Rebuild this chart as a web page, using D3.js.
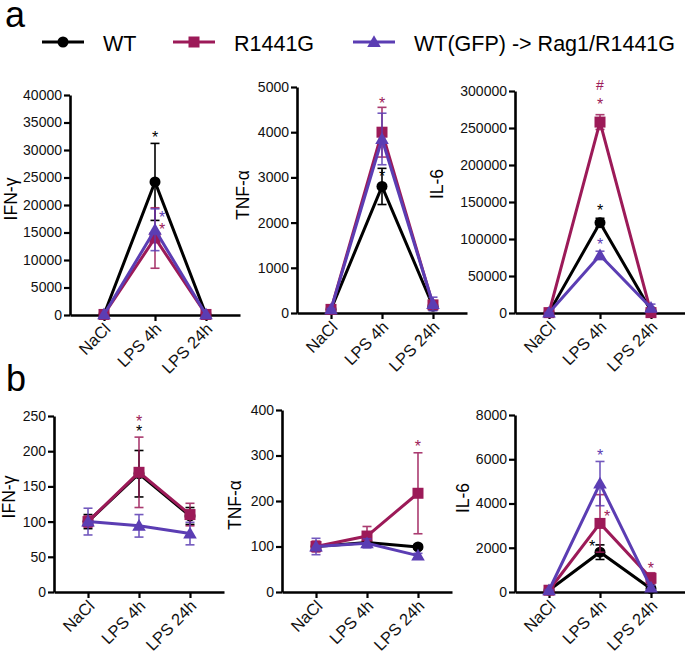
<!DOCTYPE html>
<html><head><meta charset="utf-8">
<script src="https://cdn.jsdelivr.net/npm/d3@7"></script>
<style>
body{margin:0;background:#fff;}
text{font-family:"Liberation Sans",Arial,sans-serif;}
</style></head>
<body><svg id="c" width="685" height="654"></svg>
<script>
// ---------- DATA ----------
const categories = ["NaCl", "LPS 4h", "LPS 24h"];
const seriesNames = ["WT", "R1441G", "WT(GFP) -> Rag1/R1441G"];
const panelLabels = ["IFN-γ", "TNF-α", "IL-6", "IFN-γ", "TNF-α", "IL-6"];
const yMaxes = [40000, 5000, 300000, 250, 400, 8000];
const yTickSteps = [5000, 1000, 50000, 50, 100, 2000];

// means per panel: [WT, R1441G, Rag]
const aIFNgMean = [[100, 24200, 100], [100, 14000, 100], [100, 15500, 100]];
const aIFNgErr  = [[50, 7000, 50], [0, 5500, 0], [0, 3800, 0]];
const aTNFaMean = [[80, 2800, 150], [80, 4000, 180], [80, 3850, 200]];
const aTNFaErr  = [[20, 400, 80], [20, 550, 60], [20, 570, 150]];
const aIL6Mean  = [[500, 122000, 3000], [500, 258000, 500], [500, 78000, 7000]];
const aIL6Err   = [[200, 6000, 1500], [200, 10000, 300], [200, 5500, 5000]];
const bIFNgMean = [[100, 168, 108], [100, 170, 110], [100, 94, 83]];
const bIFNgErr  = [[10, 33, 12], [8, 50, 16], [19, 16, 16]];
const bTNFaMean = [[100, 109, 99], [100, 123, 217], [100, 107, 80]];
const bTNFaErr  = [[10, 10, 5], [12, 21, 89], [18, 10, 5]];
const bIL6Mean  = [[80, 1800, 150], [80, 3100, 620], [80, 4900, 200]];
const bIL6Err   = [[30, 330, 50], [30, 1300, 250], [30, 1000, 100]];

// significance marks: [panel, category, series, symbol, value(data units), side]
const marks = [
  [0, 1, 0, "*", 32700, "c"], [0, 1, 2, "*", 18200, "r"], [0, 1, 1, "*", 16050, "r"],
  [1, 1, 1, "*", 4680, "c"], [1, 1, 0, "*", 3080, "c"],
  [2, 1, 1, "#", 307700, "c"], [2, 1, 1, "*", 285200, "c"], [2, 1, 0, "*", 141500, "c"], [2, 1, 2, "*", 96500, "c"],
  [3, 1, 1, "*", 246, "c"], [3, 1, 0, "*", 232, "c"],
  [4, 2, 1, "*", 325, "c"],
  [5, 1, 2, "*", 6300, "c"], [5, 1, 1, "*", 3530, "r"], [5, 1, 0, "*", 2165, "l"], [5, 2, 1, "*", 1155, "c"]
];

// ---------- STYLE / LAYOUT ----------
const colors = ["#000000", "#9c1a58", "#5b3db3"];
const means = [aIFNgMean, aTNFaMean, aIL6Mean, bIFNgMean, bTNFaMean, bIL6Mean];
const errs = [aIFNgErr, aTNFaErr, aIL6Err, bIFNgErr, bTNFaErr, bIL6Err];
const layout = [
  {x0: 70,  top: 95,  bottom: 315, lx: 17,  ly: 199},
  {x0: 297, top: 87,  bottom: 313, lx: 249, ly: 195},
  {x0: 515, top: 91,  bottom: 313, lx: 443, ly: 184},
  {x0: 54,  top: 416, bottom: 592, lx: 15,  ly: 497},
  {x0: 282, top: 410, bottom: 592, lx: 241, ly: 505},
  {x0: 515, top: 415, bottom: 592, lx: 469, ly: 498}
];
const axisLen = 170;
const FONT = "Liberation Sans, Arial, sans-serif";

const svg = d3.select("#c");

function drawMarker(g, s, x, y) {
  if (s === 0) {
    g.append("circle").attr("cx", x).attr("cy", y).attr("r", 5.5).attr("fill", colors[0]);
  } else if (s === 1) {
    g.append("rect").attr("x", x - 5.5).attr("y", y - 5.5).attr("width", 11).attr("height", 11).attr("fill", colors[1]);
  } else {
    g.append("path").attr("d", d3.symbol(d3.symbolTriangle, 80)()).attr("transform", `translate(${x},${y + 1})`).attr("fill", colors[2]);
  }
}

// panel letters
svg.append("text").attr("x", 5).attr("y", 27).attr("font-size", 36).text("a");
svg.append("text").attr("x", 6).attr("y", 391).attr("font-size", 36).text("b");

// legend
const legX = [42, 173, 353];
seriesNames.forEach((name, i) => {
  const g = svg.append("g");
  g.append("line").attr("x1", legX[i]).attr("x2", legX[i] + 42).attr("y1", 42).attr("y2", 42)
    .attr("stroke", colors[i]).attr("stroke-width", 3.2);
  drawMarker(g, i, legX[i] + 21, 42);
  g.append("text").attr("x", legX[i] + 61).attr("y", 50.5).attr("font-size", 21.5).text(name);
});

layout.forEach((L, p) => {
  const g = svg.append("g");
  const y = d3.scaleLinear().domain([0, yMaxes[p]]).range([L.bottom, L.top]);
  const x = d3.scalePoint().domain(categories).range([L.x0, L.x0 + axisLen]).padding(0.667);
  const ticks = d3.range(0, yMaxes[p] + 1e-9, yTickSteps[p]);

  const ya = g.append("g").attr("transform", `translate(${L.x0},0)`)
    .call(d3.axisLeft(y).tickValues(ticks).tickFormat(d3.format("d")).tickSize(6).tickSizeOuter(0));
  ya.select(".domain").attr("stroke-width", 2.6);
  ya.selectAll(".tick line").attr("stroke-width", 2.2);
  ya.selectAll(".tick text").attr("font-size", 14).attr("font-family", FONT).attr("x", -8).attr("fill", "#111");

  const xa = g.append("g").attr("transform", `translate(0,${L.bottom})`)
    .call(d3.axisBottom(x).tickSize(6).tickSizeOuter(0));
  xa.select(".domain").attr("stroke-width", 2.6);
  xa.selectAll(".tick line").attr("stroke-width", 2.2);
  xa.selectAll(".tick text").attr("font-size", 16.5).attr("font-family", FONT)
    .attr("text-anchor", "end").attr("fill", "#111")
    .attr("transform", "translate(3,11) rotate(-45)").attr("x", 0).attr("y", 0).attr("dy", "0.35em");

  // y label
  g.append("text").attr("transform", `translate(${L.lx},${L.ly}) rotate(-90)`)
    .attr("text-anchor", "middle").attr("font-size", 17.5).text(panelLabels[p]);

  // series
  const line = d3.line().x((d, i) => x(categories[i])).y(d => y(d));
  [0, 1, 2].forEach(s => {
    const m = means[p][s], e = errs[p][s];
    m.forEach((v, i) => {
      if (e[i] <= 0) return;
      const cx = x(categories[i]);
      const eg = g.append("g").attr("stroke", colors[s]).attr("stroke-width", 1.6).attr("opacity", s === 0 ? 1 : 0.85);
      eg.append("line").attr("x1", cx).attr("x2", cx).attr("y1", y(v - e[i])).attr("y2", y(v + e[i]));
      [v - e[i], v + e[i]].forEach(t => eg.append("line").attr("x1", cx - 4.5).attr("x2", cx + 4.5).attr("y1", y(t)).attr("y2", y(t)));
    });
    g.append("path").attr("d", line(m)).attr("fill", "none").attr("stroke", colors[s]).attr("stroke-width", 3)
      .attr("stroke-linejoin", "miter");
    m.forEach((v, i) => drawMarker(g, s, x(categories[i]), y(v)));
  });

  // marks
  marks.filter(mk => mk[0] === p).forEach(mk => {
    const cx = x(categories[mk[1]]) + (mk[5] === "r" ? 7 : mk[5] === "l" ? -8 : 0);
    const isStar = mk[3] === "*";
    g.append("text").attr("x", cx).attr("y", y(mk[4]) + (isStar ? 8 : 5))
      .attr("text-anchor", "middle").attr("font-size", isStar ? 16 : 14)
      .attr("fill", colors[mk[2]]).text(mk[3]);
  });
});
</script></body></html>
